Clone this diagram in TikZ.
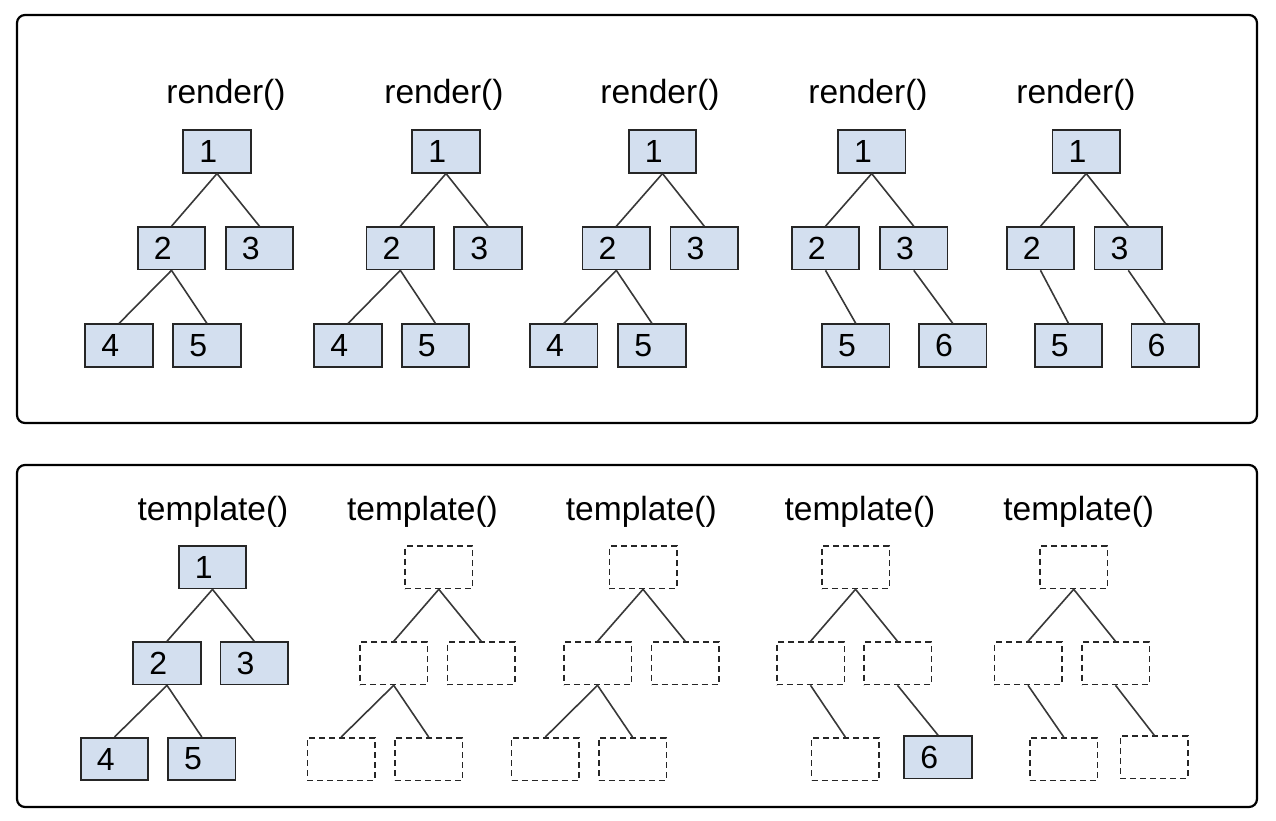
\documentclass[tikz,border=0pt]{standalone}
\usepackage{fontspec}
\setmainfont{Liberation Sans}
\definecolor{boxfill}{HTML}{D3DFEF}
\definecolor{edgecol}{HTML}{383838}
\tikzset{
 fullbox/.style={rectangle, draw=black!85, fill=boxfill, line width=1.6pt,
   minimum width=67.5pt, minimum height=42.5pt, inner xsep=16.1pt, inner ysep=0pt,
   text width=35.3pt, align=left, font=\fontsize{32}{32}\selectfont},
 ghostbox/.style={rectangle, draw=black!85, dash pattern=on 6pt off 4pt, line width=1.5pt,
   minimum width=67.5pt, minimum height=42.5pt, inner sep=0pt},
 titletext/.style={anchor=base, font=\fontsize{33.5}{33.5}\selectfont, inner sep=0pt},
 linkline/.style={draw=edgecol, line width=1.6pt},
 panelbox/.style={draw=black, line width=2.2pt, rounded corners=8pt}
}
\begin{document}
\begin{tikzpicture}[x=1pt,y=-1pt]
\useasboundingbox (0,0) rectangle (1276,820);
\draw[panelbox] (17,15) rectangle (1257,423);
\draw[panelbox] (17,465) rectangle (1257,807);

% ---------- top row ----------
% tree 1
\node[titletext] (rt1) at (226,103) {render()};
\node[fullbox] (a1) at (217,151.5) {1};
\node[fullbox] (a2) at (171.5,248.3) {2};
\node[fullbox] (a3) at (259.5,248.3) {3};
\node[fullbox] (a4) at (119,345.5) {4};
\node[fullbox] (a5) at (207,345.5) {5};
\draw[linkline] (a1.south) -- (a2.north);
\draw[linkline] (a1.south) -- (a3.north);
\draw[linkline] (a2.south) -- (a4.north);
\draw[linkline] (a2.south) -- (a5.north);
% tree 2
\node[titletext] (rt2) at (444,103) {render()};
\node[fullbox] (b1) at (446,151.5) {1};
\node[fullbox] (b2) at (400.3,248.3) {2};
\node[fullbox] (b3) at (488,248.3) {3};
\node[fullbox] (b4) at (348,345.5) {4};
\node[fullbox] (b5) at (435.5,345.5) {5};
\draw[linkline] (b1.south) -- (b2.north);
\draw[linkline] (b1.south) -- (b3.north);
\draw[linkline] (b2.south) -- (b4.north);
\draw[linkline] (b2.south) -- (b5.north);
% tree 3
\node[titletext] (rt3) at (660,103) {render()};
\node[fullbox] (c1) at (662.5,151.5) {1};
\node[fullbox] (c2) at (616.3,248.3) {2};
\node[fullbox] (c3) at (704.3,248.3) {3};
\node[fullbox] (c4) at (563.8,345.5) {4};
\node[fullbox] (c5) at (652,345.5) {5};
\draw[linkline] (c1.south) -- (c2.north);
\draw[linkline] (c1.south) -- (c3.north);
\draw[linkline] (c2.south) -- (c4.north);
\draw[linkline] (c2.south) -- (c5.north);
% tree 4
\node[titletext] (rt4) at (868,103) {render()};
\node[fullbox] (d1) at (871.7,151.5) {1};
\node[fullbox] (d2) at (825.5,248.3) {2};
\node[fullbox] (d3) at (913.8,248.3) {3};
\node[fullbox] (d5) at (855.8,345.5) {5};
\node[fullbox] (d6) at (952.8,345.5) {6};
\draw[linkline] (d1.south) -- (d2.north);
\draw[linkline] (d1.south) -- (d3.north);
\draw[linkline] (d2.south) -- (d5.north);
\draw[linkline] (d3.south) -- (d6.north);
% tree 5
\node[titletext] (rt5) at (1076,103) {render()};
\node[fullbox] (e1) at (1086.2,151.5) {1};
\node[fullbox] (e2) at (1040.5,248.3) {2};
\node[fullbox] (e3) at (1128.3,248.3) {3};
\node[fullbox] (e5) at (1068.5,345.5) {5};
\node[fullbox] (e6) at (1165.2,345.5) {6};
\draw[linkline] (e1.south) -- (e2.north);
\draw[linkline] (e1.south) -- (e3.north);
\draw[linkline] (e2.south) -- (e5.north);
\draw[linkline] (e3.south) -- (e6.north);

% ---------- bottom row ----------
% tree 1
\node[titletext] (tt1) at (213,520) {template()};
\node[fullbox] (f1) at (212.5,567.3) {1};
\node[fullbox] (f2) at (167,663.3) {2};
\node[fullbox] (f3) at (254.2,663.3) {3};
\node[fullbox] (f4) at (114.5,759) {4};
\node[fullbox] (f5) at (201.8,759) {5};
\draw[linkline] (f1.south) -- (f2.north);
\draw[linkline] (f1.south) -- (f3.north);
\draw[linkline] (f2.south) -- (f4.north);
\draw[linkline] (f2.south) -- (f5.north);
% tree 2
\node[titletext] (tt2) at (422.5,520) {template()};
\node[ghostbox] (g1) at (438.8,567.3) {};
\node[ghostbox] (g2) at (393.7,663.3) {};
\node[ghostbox] (g3) at (481.2,663.3) {};
\node[ghostbox] (g4) at (341.2,759) {};
\node[ghostbox] (g5) at (428.7,759) {};
\draw[linkline] (g1.south) -- (g2.north);
\draw[linkline] (g1.south) -- (g3.north);
\draw[linkline] (g2.south) -- (g4.north);
\draw[linkline] (g2.south) -- (g5.north);
% tree 3
\node[titletext] (tt3) at (641.3,520) {template()};
\node[ghostbox] (h1) at (643,567.3) {};
\node[ghostbox] (h2) at (597.5,663.3) {};
\node[ghostbox] (h3) at (685.3,663.3) {};
\node[ghostbox] (h4) at (545.3,759) {};
\node[ghostbox] (h5) at (632.5,759) {};
\draw[linkline] (h1.south) -- (h2.north);
\draw[linkline] (h1.south) -- (h3.north);
\draw[linkline] (h2.south) -- (h4.north);
\draw[linkline] (h2.south) -- (h5.north);
% tree 4
\node[titletext] (tt4) at (860,520) {template()};
\node[ghostbox] (i1) at (855.5,567.3) {};
\node[ghostbox] (i2) at (810.5,663.3) {};
\node[ghostbox] (i3) at (897.5,663.3) {};
\node[ghostbox] (i5) at (845.3,759) {};
\node[fullbox] (i6) at (938,757.2) {6};
\draw[linkline] (i1.south) -- (i2.north);
\draw[linkline] (i1.south) -- (i3.north);
\draw[linkline] (i2.south) -- (i5.north);
\draw[linkline] (i3.south) -- (i6.north);
% tree 5
\node[titletext] (tt5) at (1078.7,520) {template()};
\node[ghostbox] (j1) at (1073.7,567.3) {};
\node[ghostbox] (j2) at (1028,663.3) {};
\node[ghostbox] (j3) at (1115.5,663.3) {};
\node[ghostbox] (j5) at (1063.7,759) {};
\node[ghostbox] (j6) at (1154.2,757.2) {};
\draw[linkline] (j1.south) -- (j2.north);
\draw[linkline] (j1.south) -- (j3.north);
\draw[linkline] (j2.south) -- (j5.north);
\draw[linkline] (j3.south) -- (j6.north);
\end{tikzpicture}
\end{document}
